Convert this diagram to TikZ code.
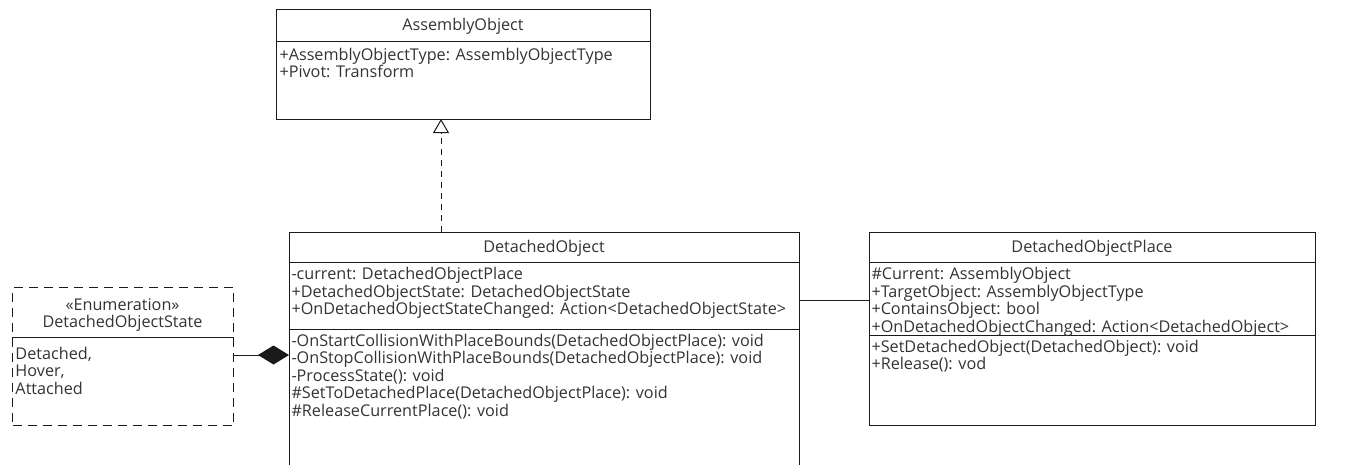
\documentclass[tikz,border=0pt]{standalone}
\usepackage{fontspec}
\setmainfont{Open Sans}
\usepackage{xcolor}
\usetikzlibrary{positioning,arrows.meta,calc}

\definecolor{umltext}{HTML}{333333}
\definecolor{umlline}{HTML}{1A1A1A}
\newcommand{\umlfont}{\fontsize{16.2}{17.5}\selectfont}

\begin{document}
\begin{tikzpicture}[x=1pt,y=-1pt,line width=1pt,color=umlline,
  classbox/.style={draw,anchor=north west,inner sep=0pt},
  enumbox/.style={classbox,dash pattern=on 9pt off 6pt},
  classname/.style={font=\umlfont,text=umltext,align=center,inner sep=0pt,anchor=base},
  members/.style={font=\umlfont,text=umltext,align=left,inner sep=0pt,anchor=base west},
  realize/.style={dash pattern=on 6pt off 5pt,-{Triangle[open,length=14pt,width=16pt]}},
  compose/.style={-{Diamond[length=31pt,width=19pt,fill=umlline]}}]
  \useasboundingbox (0,0) rectangle (1347,464);

  % AssemblyObject (last baseline given for multi-line nodes)
  \node[classbox,minimum width=374pt,minimum height=110pt] (ao) at (276,9) {};
  \node[classname] (aoname) at (463,30) {AssemblyObject};
  \draw ($(ao.north west)+(0,32)$) -- ($(ao.north east)+(0,32)$);
  \node[members] (aoattr) at (279,77.5) {+AssemblyObjectType: AssemblyObjectType\\+Pivot: Transform};

  % DetachedObject
  \node[classbox,minimum width=510pt,minimum height=260pt] (do) at (289,232) {};
  \node[classname] (doname) at (544,252) {DetachedObject};
  \draw ($(do.north west)+(0,30)$) -- ($(do.north east)+(0,30)$);
  \draw ($(do.north west)+(0,97)$) -- ($(do.north east)+(0,97)$);
  \node[members] (doattr) at (291,314.5) {-current: DetachedObjectPlace\\
    +DetachedObjectState: DetachedObjectState\\
    +OnDetachedObjectStateChanged: Action<DetachedObjectState>};
  \node[members] (doops) at (291,416) {-OnStartCollisionWithPlaceBounds(DetachedObjectPlace): void\\
    -OnStopCollisionWithPlaceBounds(DetachedObjectPlace): void\\
    -ProcessState(): void\\
    \#SetToDetachedPlace(DetachedObjectPlace): void\\
    \#ReleaseCurrentPlace(): void};

  % DetachedObjectPlace
  \node[classbox,minimum width=446pt,minimum height=193pt] (dop) at (869,232) {};
  \node[classname] (dopname) at (1092,252) {DetachedObjectPlace};
  \draw ($(dop.north west)+(0,30)$) -- ($(dop.north east)+(0,30)$);
  \draw ($(dop.north west)+(0,103)$) -- ($(dop.north east)+(0,103)$);
  \node[members] (dopattr) at (871,332) {\#Current: AssemblyObject\\
    +TargetObject: AssemblyObjectType\\
    +ContainsObject: bool\\
    +OnDetachedObjectChanged: Action<DetachedObject>};
  \node[members] (dopops) at (871,369.5) {+SetDetachedObject(DetachedObject): void\\
    +Release(): vod};

  % DetachedObjectState
  \node[enumbox,minimum width=221pt,minimum height=138pt] (enum) at (12,287) {};
  \node[classname] (enumname) at (122.5,327.5) {«Enumeration»\\DetachedObjectState};
  \draw ($(enum.north west)+(0,50)$) -- ($(enum.north east)+(0,50)$);
  \node[members] (enumvals) at (15,394) {Detached,\\Hover,\\Attached};

  % relations
  \coordinate (gen) at (441,119);
  \draw[realize] (do.north -| gen) -- (gen);
  \coordinate (comp) at (289,355);
  \draw[compose] (enum.east |- comp) -- (comp);
  \coordinate (assoc) at (869,300);
  \draw (do.east |- assoc) -- (assoc);
\end{tikzpicture}
\end{document}
